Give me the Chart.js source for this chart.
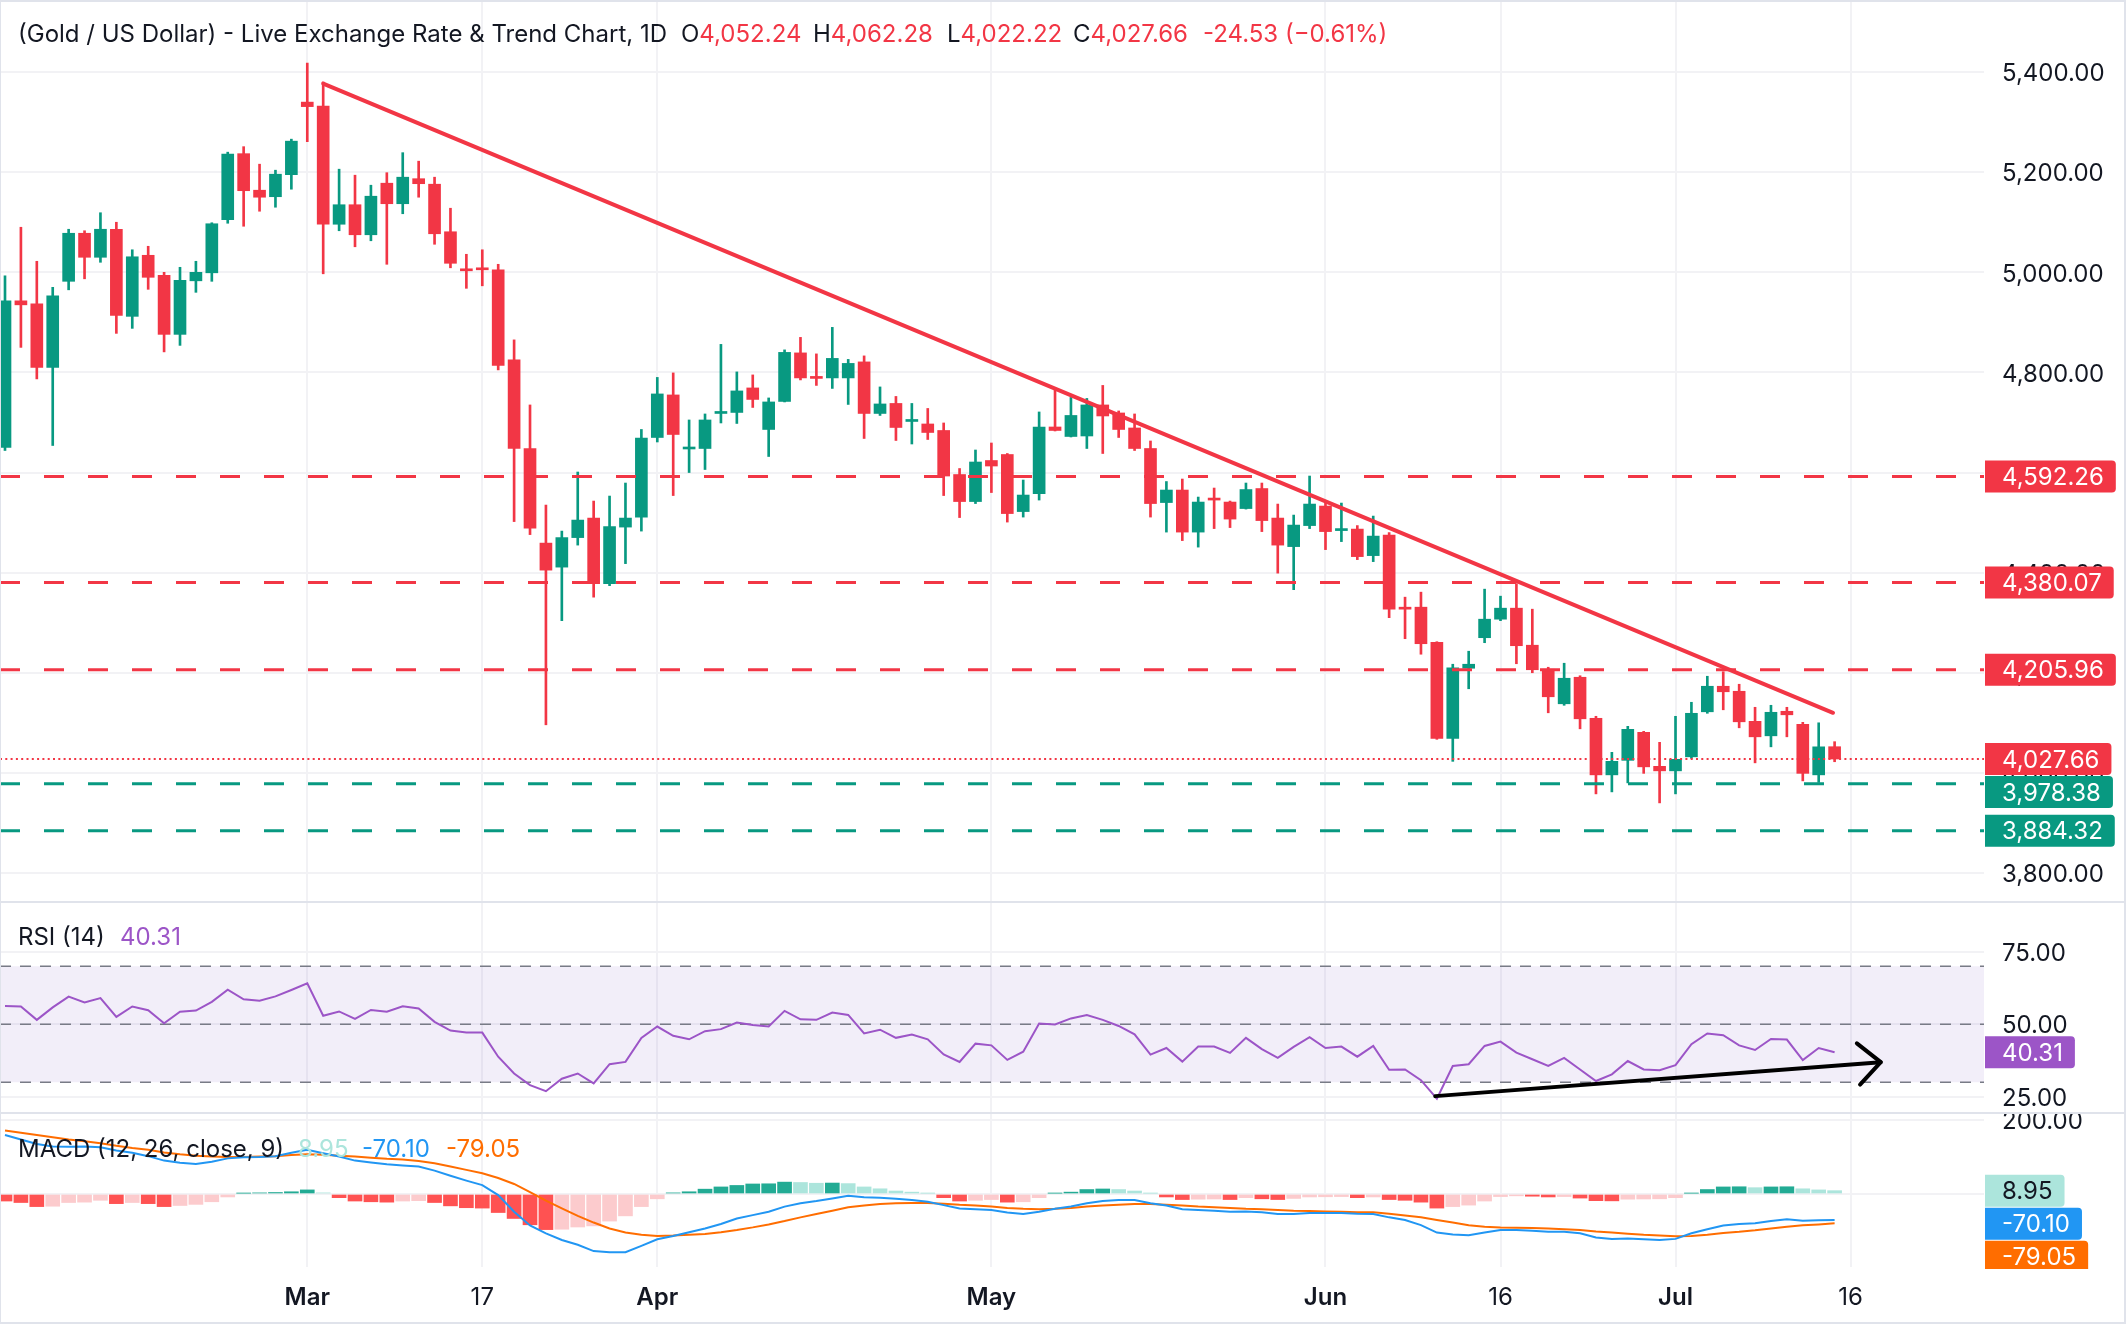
<!DOCTYPE html>
<html>
<head>
<meta charset="utf-8">
<script src="https://cdn.jsdelivr.net/npm/chart.js@4.4.1/dist/chart.umd.min.js"></script>
<style>
  body { margin: 0; background: #fff; }
  #wrap { position: relative; width: 2126px; height: 1344px; overflow: hidden; background: #fff;
          font-family: Inter, "Noto Sans", sans-serif; color: #131722; }
  canvas { position: absolute; left: 0; }
  .txt { position: absolute; font-size: 24px; line-height: 28px; white-space: nowrap; }
  .red { color: #F23645; }
  .rule { position: absolute; background: #E0E3EB; }
</style>
</head>
<body>
<div id="wrap">
  <canvas id="priceChart" width="2126" height="902" style="top:0"></canvas>
  <canvas id="rsiChart" width="2126" height="211" style="top:902px"></canvas>
  <canvas id="macdChart" width="2126" height="210" style="top:1113px"></canvas>

  <div class="rule" style="left:0;top:0;width:2126px;height:2px"></div>
  <div class="rule" style="left:0;top:0;width:1px;height:1323px"></div>
  <div class="rule" style="left:2124px;top:0;width:2px;height:1323px"></div>
  <div class="rule" style="left:0;top:1322px;width:2126px;height:2px"></div>
  <div class="rule" style="left:0;top:901px;width:2126px;height:2px"></div>
  <div class="rule" style="left:0;top:1112px;width:2126px;height:2px"></div>

  <div class="txt" style="left:18px;top:20px">(Gold / US Dollar) - Live Exchange Rate &amp; Trend Chart, 1D</div>
  <div class="txt" style="left:681px;top:20px">O<span class="red">4,052.24</span></div>
  <div class="txt" style="left:813px;top:20px">H<span class="red">4,062.28</span></div>
  <div class="txt" style="left:947px;top:20px">L<span class="red">4,022.22</span></div>
  <div class="txt" style="left:1073px;top:20px">C<span class="red">4,027.66</span></div>
  <div class="txt red" style="left:1203px;top:20px">-24.53 (−0.61%)</div>

  <div class="txt" style="left:18px;top:923px">RSI (14)</div>
  <div class="txt" style="left:120px;top:923px;color:#9C55C7">40.31</div>

  <div class="txt" style="left:18px;top:1135px">MACD (12, 26, close, 9)</div>
  <div class="txt" style="left:298px;top:1135px;color:#ACE5DC">8.95</div>
  <div class="txt" style="left:362px;top:1135px;color:#2196F3">-70.10</div>
  <div class="txt" style="left:446px;top:1135px;color:#FF6D00">-79.05</div>
</div>
<script>
// daily candles, one per trading day (index 19 = 2 Mar, 115 = 15 Jul)
const opens = [4650,4943,4937,4810,4982,5078,5030,5086,4912,5034,
  4994,4876,4983,4999,5105,5237,5164,5151,5195,5340,
  5332,5096,5135,5075,5178,5137,5187,5176,5081,5006,
  5008,5005,4825,4648,4459,4411,4470,4509,4378,4491,
  4511,4670,4755,4647,4648,4718,4720,4769,4686,4742,
  4839,4791,4789,4789,4821,4718,4738,4702,4697,4684,
  4596,4542,4624,4636,4522,4558,4691,4672,4673,4735,
  4719,4689,4648,4540,4565,4481,4548,4541,4528,4568,
  4509,4452,4494,4533,4484,4487,4434,4475,4330,4331,
  4261,4069,4209,4270,4307,4329,4255,4207,4138,4191,
  4109,3996,4025,4081,4013,4004,4032,4122,4173,4163,
  4103,4074,4123,4097,3996,4052.24];
const highs = [4993,5090,5022,4970,5086,5083,5119,5100,5045,5052,
  5000,5010,5022,5099,5240,5251,5216,5204,5266,5418,
  5380,5206,5194,5174,5199,5239,5222,5190,5128,5036,
  5045,5016,4865,4735,4535,4483,4601,4543,4553,4579,
  4686,4790,4799,4705,4717,4856,4801,4795,4749,4845,
  4870,4837,4890,4826,4833,4771,4752,4738,4728,4699,
  4608,4645,4659,4638,4585,4721,4765,4750,4748,4774,
  4723,4717,4663,4582,4587,4551,4569,4543,4579,4579,
  4537,4515,4593,4541,4539,4494,4513,4480,4351,4361,
  4262,4217,4243,4367,4353,4378,4327,4211,4219,4194,
  4113,4041,4093,4083,4061,4113,4141,4193,4202,4177,
  4131,4135,4131,4101,4100,4062.28];
const lows = [4644,4850,4787,4654,4965,4987,5020,4878,4888,4966,
  4841,4854,4960,4982,5098,5092,5122,5130,5166,5261,
  4997,5083,5051,5063,5016,5117,5150,5056,5009,4968,
  4973,4805,4502,4476,4096,4304,4455,4351,4374,4418,
  4483,4661,4554,4600,4606,4699,4698,4730,4632,4741,
  4785,4774,4768,4736,4668,4714,4664,4657,4666,4554,
  4510,4538,4560,4501,4511,4545,4683,4671,4648,4638,
  4670,4644,4511,4481,4464,4451,4488,4490,4527,4482,
  4399,4366,4488,4446,4462,4426,4422,4310,4268,4237,
  4067,4023,4168,4260,4304,4218,4200,4120,4135,4088,
  3958,3962,3980,3999,3940,3958,4029,4119,4126,4090,
  4020,4052,4072,3984,3981,4022.22];
const closes = [4943,4935,4810,4953,5078,5030,5086,4914,5031,4990,
  4876,4984,5000,5097,5236,5163,5150,5196,5262,5331,
  5096,5135,5075,5152,5137,5190,5177,5077,5018,5003,
  5005,4814,4648,4489,4405,4470,4505,4378,4492,4509,
  4669,4757,4676,4650,4705,4721,4763,4746,4741,4840,
  4789,4788,4828,4818,4718,4737,4690,4705,4680,4593,
  4542,4621,4613,4518,4555,4691,4684,4714,4735,4713,
  4686,4648,4538,4565,4481,4541,4545,4507,4566,4504,
  4455,4495,4537,4482,4487,4432,4473,4327,4327,4258,
  4069,4210,4217,4307,4329,4254,4206,4152,4189,4108,
  3996,4023,4087,4012,4004,4027,4119,4173,4162,4102,
  4072,4121,4116,3999,4052,4027.66];

const rsiValues = [56.3,56.1,51.5,55.8,59.5,57.5,59.0,52.5,56.1,54.8,
  50.3,54.3,54.7,57.7,61.9,58.6,58.1,59.6,61.8,64.1,
  52.9,54.4,51.8,54.9,54.3,56.2,55.4,50.8,47.8,47.1,
  47.1,38.8,33.0,29.0,26.9,31.2,33.0,29.6,36.2,37.0,
  45.3,49.2,46.0,44.8,47.6,48.3,50.6,49.7,49.2,54.6,
  51.7,51.5,54.0,53.2,46.8,48.1,45.3,46.4,44.8,39.6,
  37.0,43.3,42.7,37.7,40.5,50.2,49.9,52.0,53.2,51.5,
  49.4,46.5,39.5,41.8,37.1,42.3,42.3,40.1,45.3,41.4,
  38.4,42.2,45.5,41.8,42.3,38.8,42.5,34.3,34.4,30.7,
  24.3,35.6,36.2,42.5,44.0,40.2,37.9,35.6,38.4,34.4,
  30.4,32.7,37.3,34.4,34.1,35.9,43.1,46.8,46.2,42.7,
  41.1,44.9,44.7,37.6,41.8,40.31];

const macdLine = [159,147,135,128,127,128,126,117,111,102,
  90,84,81,87,96,99,100,102,111,119,
  110,101,90,85,80,77,74,63,49,36,
  24,-3,-48,-85,-106,-124,-137,-154,-157,-157,
  -140,-122,-113,-103,-93,-81,-66,-57,-48,-34,
  -25,-19,-12,-5,-9,-10,-13,-16,-21,-30,
  -39,-41,-43,-50,-54,-48,-40,-34,-25,-19,
  -16,-16,-25,-31,-41,-43,-45,-48,-47,-49,
  -54,-54,-51,-51,-51,-53,-54,-63,-70,-84,
  -104,-109,-111,-104,-97,-97,-99,-102,-102,-106,
  -117,-121,-120,-122,-124,-121,-106,-95,-85,-81,
  -79,-73,-68,-72,-71,-70.10];
const signalLine = [171,165,159,153,147,142,137,130,124,119,
  112,107,103,101,100,100,101,102,105,107,
  106,103,101,98,95,93,89,83,74,65,
  56,43,27,5,-18,-39,-59,-77,-93,-104,
  -110,-113,-112,-110,-108,-103,-97,-90,-82,-73,
  -63,-54,-45,-36,-31,-27,-25,-24,-24,-26,
  -29,-31,-34,-38,-40,-41,-40,-38,-34,-31,
  -29,-27,-27,-29,-31,-34,-36,-38,-40,-41,
  -43,-45,-46,-47,-48,-49,-49,-53,-58,-63,
  -70,-77,-84,-88,-90,-91,-92,-93,-95,-97,
  -101,-104,-107,-110,-112,-114,-113,-110,-105,-102,
  -98,-93,-88,-84,-82,-79.05];
const macdHist = [-19,-23,-34,-33,-23,-22,-17,-26,-23,-26,
  -34,-31,-28,-21,-8,2,3,4,6,11,
  3,-10,-19,-21,-22,-19,-18,-23,-32,-37,
  -38,-50,-66,-83,-96,-95,-89,-86,-73,-59,
  -34,-13,3,6,13,19,23,27,27.5,32,
  31,29,29.5,28,19,14,8,5,2,-10,
  -19,-17,-15,-22,-21,-10,2,5,12,13.5,
  12,8,2,-8,-15,-14,-13.5,-15,-10,-13,
  -15,-12,-8,-7.5,-7,-10,-8,-15,-17,-22,
  -38,-34,-30,-19,-7,-5,-6,-8,-7,-11,
  -18,-18.5,-14,-13.5,-13,-10,2,12,19,19.5,
  17,19,19.5,14,11,8.95];

const dateTickIdx = [19, 30, 41, 62, 83, 94, 105, 116];
const dateTickLabels = ['Mar', '17', 'Apr', 'May', 'Jun', '16', 'Jul', '16'];
const priceTicks = [3800, 4000, 4200, 4400, 4600, 4800, 5000, 5200, 5400];
const rsiTicks = [25, 50, 75];
const macdTicks = [0, 200];

const resistanceLevels = [4592.26, 4380.07, 4205.96];
const supportLevels = [3978.38, 3884.32];
const lastClose = 4027.66;
const rsiGuides = [70, 50, 30];

// drawn lines, in (bar index, value)
const trendX = [20, 114.9];
const trendY = [5377, 4120];
const arrowX = [89.9, 117.9];
const arrowY = [25.2, 36.9];
const arrowHeadX = [116.4, 117.9, 116.6];
const arrowHeadY = [43.4, 36.9, 29.2];

// ---- styling ----
const UP = '#089981', DOWN = '#F23645';
const GRID = '#F2F2F5';
const X_MIN = -0.314, X_MAX = 124.39;

Chart.defaults.font.family = 'Inter, "Noto Sans", sans-serif';
Chart.defaults.animation = false;

const idx = closes.map((_, i) => i);
const fmt2 = v => v.toLocaleString('en-US', { minimumFractionDigits: 2, maximumFractionDigits: 2 });
const pts = (xs, ys) => xs.map((x, i) => ({ x: x, y: ys[i] }));
const hline = y => [{ x: X_MIN, y: y }, { x: X_MAX, y: y }];

function xScale(showLabels) {
  return {
    type: 'linear', min: X_MIN, max: X_MAX, offset: false,
    grid: { color: GRID, lineWidth: 2, drawTicks: false, offset: false },
    border: { display: false },
    afterBuildTicks: s => { s.ticks = dateTickIdx.map(v => ({ value: v })); },
    afterFit: s => { s.height = showLabels ? 56 : 0; s.paddingLeft = 0; s.paddingRight = 0; },
    ticks: {
      display: showLabels, autoSkip: false, maxRotation: 0, padding: 16, color: '#131722',
      font: c => ({ size: 24, weight: /^\d/.test(dateTickLabels[c.index] || '') ? 'normal' : '600' }),
      callback: (v, i) => dateTickLabels[i]
    }
  };
}

function yScale(min, max, ticks) {
  return {
    position: 'right', min: min, max: max,
    grid: { color: GRID, lineWidth: 2, drawTicks: false },
    border: { display: false },
    afterBuildTicks: s => { s.ticks = ticks.map(v => ({ value: v })); },
    afterFit: s => { s.width = 142; s.paddingTop = 0; s.paddingBottom = 0; },
    ticks: { padding: 18, labelOffset: 2, color: '#131722', font: { size: 24 }, callback: v => fmt2(v) }
  };
}

// value tags on the right axis
function tagPlugin(items) {
  return {
    id: 'tags',
    afterDraw(chart) {
      const { ctx, chartArea } = chart;
      const y = chart.scales.y;
      ctx.save();
      ctx.beginPath();
      ctx.rect(0, 0, chart.width, chartArea.bottom + 2);
      ctx.clip();
      ctx.font = '24px Inter, "Noto Sans", sans-serif';
      ctx.textBaseline = 'middle';
      let prevBottom = -Infinity;
      items.map(t => Object.assign({ py: y.getPixelForValue(t.value) }, t))
        .sort((a, b) => a.py - b.py)
        .forEach(t => {
          const top = Math.max(t.py - 16, prevBottom + 1);
          const text = fmt2(t.value);
          const w = ctx.measureText(text).width + 29;
          ctx.fillStyle = t.bg;
          ctx.beginPath();
          ctx.roundRect(chartArea.right + 1, top, w, 32, [0, 4, 4, 0]);
          ctx.fill();
          ctx.fillStyle = t.fg;
          ctx.fillText(text, chartArea.right + 18, top + 17.5);
          prevBottom = top + 32;
        });
      ctx.restore();
    }
  };
}

const baseOpts = {
  responsive: false, devicePixelRatio: 1, events: [],
  layout: { padding: 0 },
  plugins: { legend: { display: false }, tooltip: { enabled: false } }
};

// ---- price panel ----
const candleColors = idx.map(i => closes[i] >= opens[i] ? UP : DOWN);
const levelSets = resistanceLevels.map(v => ({
  type: 'line', data: hline(v), borderColor: DOWN, borderWidth: 3, borderDash: [20, 24],
  pointRadius: 0, order: 2
})).concat(supportLevels.map(v => ({
  type: 'line', data: hline(v), borderColor: UP, borderWidth: 3, borderDash: [20, 24],
  pointRadius: 0, order: 2
})));

new Chart(document.getElementById('priceChart'), {
  type: 'bar',
  data: {
    datasets: [
      { data: idx.map(i => ({ x: i, y: [lows[i], highs[i]] })), backgroundColor: candleColors,
        barThickness: 2, grouped: false, order: 4 },
      { data: idx.map(i => ({ x: i, y: [opens[i], closes[i]] })), backgroundColor: candleColors,
        barThickness: 12, minBarLength: 2, grouped: false, order: 3 },
      ...levelSets,
      { type: 'line', data: hline(lastClose), borderColor: DOWN, borderWidth: 2, borderDash: [2, 3.3],
        pointRadius: 0, order: 2 },
      { type: 'line', data: pts(trendX, trendY), borderColor: DOWN, borderWidth: 4,
        borderCapStyle: 'round', pointRadius: 0, order: 1 }
    ]
  },
  options: Object.assign({}, baseOpts, {
    scales: { x: xScale(false), y: yScale(3742, 5544, priceTicks) }
  }),
  plugins: [tagPlugin(
    resistanceLevels.concat([lastClose]).map(v => ({ value: v, bg: DOWN, fg: '#fff' }))
      .concat(supportLevels.map(v => ({ value: v, bg: UP, fg: '#fff' })))
  )]
});

// ---- RSI panel ----
new Chart(document.getElementById('rsiChart'), {
  type: 'line',
  data: {
    datasets: [
      { data: idx.map(i => ({ x: i, y: rsiValues[i] })), borderColor: '#9C55C7', borderWidth: 2,
        pointRadius: 0, order: 1 },
      { data: hline(rsiGuides[0]), borderColor: 'transparent', pointRadius: 0,
        fill: { value: rsiGuides[2] }, backgroundColor: 'rgba(126,87,194,0.1)', order: 9 },
      ...rsiGuides.map(v => ({ data: hline(v), borderColor: '#787B86', borderWidth: 1.5,
        borderDash: [11, 9], pointRadius: 0, order: 5 })),
      { data: pts(arrowX, arrowY), borderColor: '#000', borderWidth: 4, borderCapStyle: 'round',
        pointRadius: 0, order: 0 },
      { data: pts(arrowHeadX, arrowHeadY), borderColor: '#000', borderWidth: 4, borderCapStyle: 'round',
        borderJoinStyle: 'round', pointRadius: 0, order: 0 }
    ]
  },
  options: Object.assign({}, baseOpts, {
    scales: { x: xScale(false), y: yScale(19.38, 92.14, rsiTicks) }
  }),
  plugins: [tagPlugin([{ value: rsiValues[rsiValues.length - 1], bg: '#9C55C7', fg: '#fff' }])]
});

// ---- MACD panel ----
const histColors = macdHist.map((h, i) => {
  const prev = i ? macdHist[i - 1] : 0;
  if (h >= 0) return h > prev ? '#22AB94' : '#ACE5DC';
  return h > prev ? '#FCCBCD' : '#FF5252';
});

new Chart(document.getElementById('macdChart'), {
  type: 'bar',
  data: {
    datasets: [
      { data: idx.map(i => ({ x: i, y: macdHist[i] })), backgroundColor: histColors,
        barThickness: 14, grouped: false, order: 3 },
      { type: 'line', data: idx.map(i => ({ x: i, y: macdLine[i] })), borderColor: '#2196F3',
        borderWidth: 2, pointRadius: 0, order: 1 },
      { type: 'line', data: idx.map(i => ({ x: i, y: signalLine[i] })), borderColor: '#FF6D00',
        borderWidth: 2, pointRadius: 0, order: 2 }
    ]
  },
  options: Object.assign({}, baseOpts, {
    scales: { x: xScale(true), y: yScale(-196.8, 218.3, macdTicks) }
  }),
  plugins: [tagPlugin([
    { value: macdHist[macdHist.length - 1], bg: '#ACE5DC', fg: '#131722' },
    { value: macdLine[macdLine.length - 1], bg: '#2196F3', fg: '#fff' },
    { value: signalLine[signalLine.length - 1], bg: '#FF6D00', fg: '#fff' }
  ])]
});
</script>
</body>
</html>
